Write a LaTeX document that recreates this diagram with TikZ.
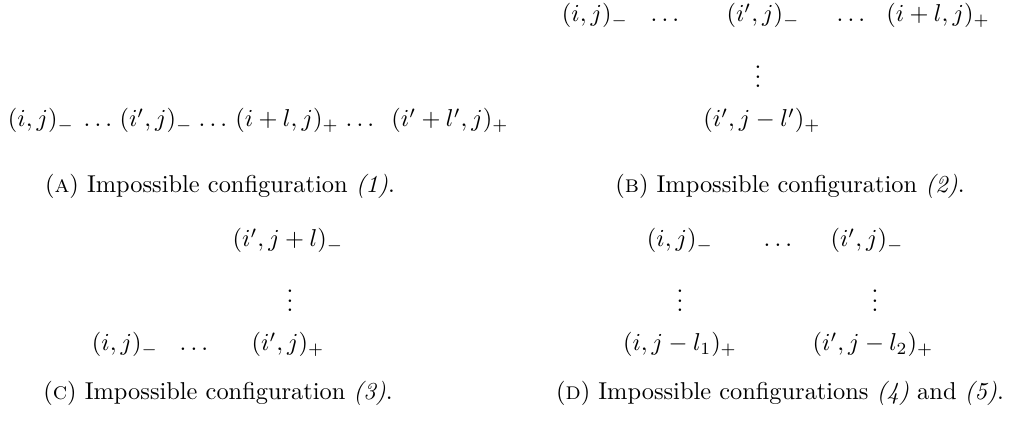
\documentclass[tikz,border=0pt]{standalone}
\usepackage{amsmath, amssymb}
\usetikzlibrary{positioning}

\begin{document}
\begin{tikzpicture}[
    x=0.41pt, y=-0.41pt,
    every node/.style={inner sep=0pt, anchor=base},
    cell/.style={},
    vdot_node/.style={},
    cap_node/.style={}
    ]
    \useasboundingbox (0,0) rectangle (1009,423);

    % (A)
    \node[cell] (a1) at (41,127) {$(i,j)_-$};
    \node[cell] (a2) at (100,127) {$\dots$};
    \node[cell] (a3) at (156,127) {$(i',j)_-$};
    \node[cell] (a4) at (215,127) {$\dots$};
    \node[cell] (a5) at (287,127) {$(i+l,j)_+$};
    \node[cell] (a6) at (362,127) {$\dots$};
    \node[cell] (a7) at (450,127) {$(i'+l',j)_+$};
    \node[cap_node] (capA) at (220,193) {(\textsc{a}) Impossible configuration \textit{(1)}.};

    % (B)
    \node[cell] (b1) at (595,22) {$(i,j)_-$};
    \node[cell] (b2) at (667,22) {$\dots$};
    \node[cell] (b3) at (763,22) {$(i',j)_-$};
    \node[cell] (b4) at (853,22) {$\dots$};
    \node[cell] (b5) at (938,22) {$(i+l,j)_+$};
    \node[vdot_node] (b6) at (758,88) {$\vdots$};
    \node[cell] (b7) at (762,127) {$(i',j-l')_+$};
    \node[cap_node] (capB) at (790,193) {(\textsc{b}) Impossible configuration \textit{(2)}.};

    % (C)
    \node[cell] (c1) at (288,247) {$(i',j+l)_-$};
    \node[vdot_node] (c2) at (290,312) {$\vdots$};
    \node[cell] (c3) at (125,351) {$(i,j)_-$};
    \node[cell] (c4) at (196,351) {$\dots$};
    \node[cell] (c5) at (288,351) {$(i',j)_+$};
    \node[cap_node] (capC) at (218,400) {(\textsc{c}) Impossible configuration \textit{(3)}.};

    % (D)
    \node[cell] (d1) at (680,247) {$(i,j)_-$};
    \node[cell] (d2) at (780,247) {$\dots$};
    \node[cell] (d3) at (867,247) {$(i',j)_-$};
    \node[vdot_node] (d4) at (680,312) {$\vdots$};
    \node[vdot_node] (d5) at (875,312) {$\vdots$};
    \node[cell] (d6) at (680,351) {$(i,j-l_1)_+$};
    \node[cell] (d7) at (873,351) {$(i',j-l_2)_+$};
    \node[cap_node] (capD) at (780,400) {(\textsc{d}) Impossible configurations \textit{(4)} and \textit{(5)}.};
\end{tikzpicture}
\end{document}
